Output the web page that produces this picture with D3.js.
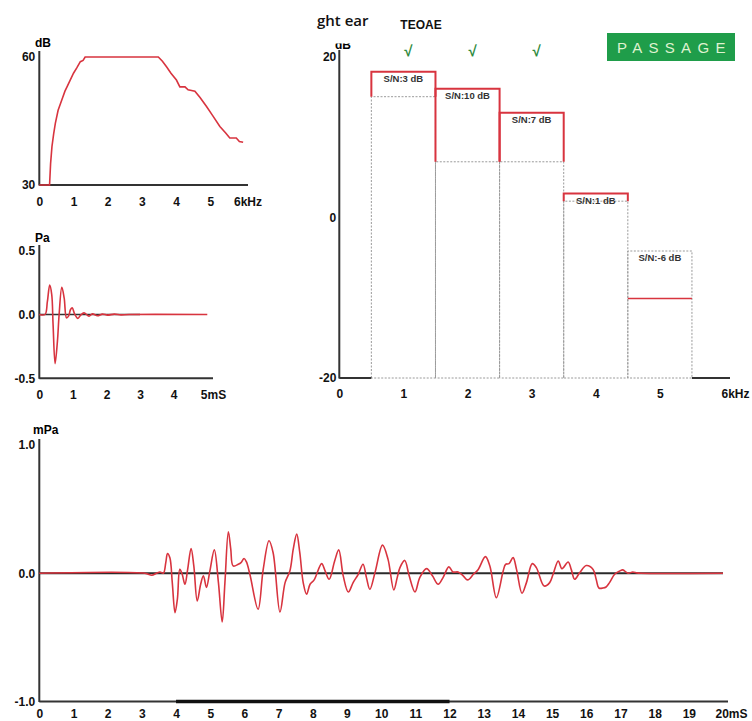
<!DOCTYPE html>
<html><head><meta charset="utf-8">
<script src="https://cdn.jsdelivr.net/npm/d3@7"></script>
<style>body{margin:0;background:#fff} svg{display:block} text{font-family:"Liberation Sans",Arial,sans-serif}</style>
</head><body><svg id="c" width="752" height="721"></svg>
<script>
// ---------- DATA ----------
// Stimulus spectrum (top-left)
const stimFreq = [0,0.30,0.33,0.37,0.42,0.47,0.55,0.66,0.75,0.81,0.90,1.00,1.10,1.20,1.28,1.34,3.48,3.60,3.72,3.85,4.01,4.11,4.26,4.35,4.55,4.70,4.89,5.05,5.28,5.45,5.57,5.76,5.85,5.96];
const stimDb   = [30,30,35,39,42,44.5,47.5,50,52,53,54.5,56.2,57.5,58.9,59.2,60,60,59,57.7,56.2,54.6,53,53,52.3,52,50.5,48.4,46.5,43.7,42.2,41,41,40.2,40];
const stimXTicks = [0,1,2,3,4,5,6];
const stimXLabels = ["0","1","2","3","4","5","6kHz"];
const stimYTicks = [30,60];

// Stimulus waveform (Pa)
const clickTime = [0,0.17,0.24,0.31,0.37,0.41,0.47,0.54,0.59,0.67,0.74,0.81,0.87,0.93,0.98,1.05,1.15,1.23,1.33,1.48,1.58,1.73,1.88,2.03,2.23,2.43,2.67,5.0];
const clickPa   = [0,0,0.10,0.23,0.156,-0.078,-0.385,-0.208,0,0.213,0.13,-0.026,-0.013,0.039,0.052,0.005,-0.03,-0.005,0.013,-0.013,0.005,-0.01,0.003,-0.005,0.003,-0.003,0,0];
const clickXTicks = [0,1,2,3,4,5];
const clickXLabels = ["0","1","2","3","4","5mS"];
const clickYTicks = [-0.5,0,0.5];

// TEOAE band spectrum
const bandCenter = [1,2,3,4,5];
const bandSignal = [18.1,16.0,13.0,2.95,-10.1];
const bandNoise  = [15.0,6.9,6.9,2.0,-4.2];
const bandLabel  = ["S/N:3 dB","S/N:10 dB","S/N:7 dB","S/N:1 dB","S/N:-6 dB"];
const bandPass   = [true,true,true,false,false];
const specXTicks = [0,1,2,3,4,5,6];
const specXLabels = ["0","1","2","3","4","5","6kHz"];
const specYTicks = [-20,0,20];

// Response waveform (mPa)
const respTime = [0,3.09,3.29,3.43,3.53,3.63,3.70,3.75,3.82,3.89,3.97,4.04,4.11,4.18,4.26,4.34,4.44,4.52,4.62,4.72,4.80,4.89,4.99,5.12,5.24,5.35,5.43,5.53,5.60,5.67,5.82,5.90,5.99,6.06,6.16,6.40,6.55,6.72,6.84,7.04,7.19,7.33,7.43,7.53,7.62,7.72,7.82,7.92,8.04,8.26,8.36,8.48,8.64,8.76,8.89,9.04,9.18,9.33,9.47,9.57,9.67,9.82,10.04,10.20,10.37,10.47,10.55,10.69,10.82,10.99,11.13,11.33,11.50,11.67,11.81,11.98,12.10,12.25,12.40,12.53,12.70,12.84,13.05,13.18,13.37,13.57,13.64,13.74,13.86,13.96,14.12,14.25,14.42,14.54,14.77,14.93,15.03,15.18,15.29,15.47,15.56,15.66,15.81,16.00,16.20,16.29,16.37,16.49,16.58,16.68,16.83,16.98,17.07,17.22,17.36,17.48,17.60,20.0];
const respMPa  = [0,0,-0.016,0,0.01,0,0.083,0.154,0.12,-0.073,-0.307,-0.2,0.03,-0.008,-0.086,0.03,0.193,0.057,-0.216,-0.086,-0.02,-0.11,0.018,0.182,-0.073,-0.38,-0.073,0.323,0.19,0.057,0.07,0.083,0.115,0.088,-0.008,-0.281,0.03,0.253,0.16,-0.302,-0.073,0.018,0.19,0.305,0.16,-0.073,-0.164,-0.086,-0.052,0.075,0.018,-0.047,0.096,0.182,-0.02,-0.146,-0.073,-0.008,0.07,-0.034,-0.125,0.005,0.219,0.11,-0.13,-0.034,0.044,0.10,-0.02,-0.146,-0.034,0.036,-0.02,-0.086,-0.034,0.05,0.01,0.01,-0.02,-0.052,-0.008,0.03,0.13,0.057,-0.19,0.018,0.07,0.075,0.122,0.03,-0.156,-0.073,0.075,0.044,-0.1,-0.073,-0.008,0.096,0.036,0.088,0.03,-0.047,0.005,0.06,0.03,-0.047,-0.115,-0.115,-0.107,-0.073,-0.008,0.018,0.026,0,0.01,0.003,0,0];
const respXTicks = d3.range(0,21);
const respXLabels = respXTicks.map(d => d===20 ? "20mS" : String(d));
const respYTicks = [-1,0,1];
const respWindow = [4,12];

// ---------- STYLE ----------
const RED = "#d8343f", AX = "#333", GRAY = "#9a9a9a";
const svg = d3.select("#c");

function styleAxis(g, size){
  g.select(".domain").remove();
  g.selectAll("text").style("font-size", size||"12px").style("font-weight","bold").attr("fill","#111");
}
function lastStart(g, dx){
  g.selectAll(".tick:last-of-type text").attr("text-anchor","start").attr("dx", dx);
}
function hline(x1,x2,y,w,c){ svg.append("line").attr("x1",x1).attr("x2",x2).attr("y1",y).attr("y2",y).attr("stroke",c||AX).attr("stroke-width",w||2); }
function vline(x,y1,y2,w,c){ svg.append("line").attr("x1",x).attr("x2",x).attr("y1",y1).attr("y2",y2).attr("stroke",c||AX).attr("stroke-width",w||2); }

// ---------- PANEL 1: stimulus spectrum ----------
{
  const x = d3.scaleLinear().domain([0,6]).range([39.3,244.5]);
  const y = d3.scaleLinear().domain([30,60]).range([185,57]);
  vline(x(0),51,185.5); hline(x(0),248,y(30));
  svg.append("g").attr("transform",`translate(0,${y(30)})`)
    .call(d3.axisBottom(x).tickValues(stimXTicks).tickSize(0).tickPadding(12).tickFormat((d,i)=>stimXLabels[i]))
    .call(g=>{styleAxis(g); lastStart(g,-11);});
  svg.append("g").attr("transform",`translate(${x(0)},0)`)
    .call(d3.axisLeft(y).tickValues(stimYTicks).tickSize(0).tickPadding(4))
    .call(g=>styleAxis(g));
  svg.append("text").attr("x",35).attr("y",47).text("dB").style("font-size","12px").style("font-weight","bold");
  const pts = stimFreq.map((f,i)=>[f,stimDb[i]]);
  svg.append("path").datum(pts).attr("fill","none").attr("stroke",RED).attr("stroke-width",1.6)
    .attr("d", d3.line().x(d=>x(d[0])).y(d=>y(d[1])));
}

// ---------- PANEL 2: click waveform ----------
{
  const x = d3.scaleLinear().domain([0,5]).range([39.3,207.3]);
  const y = d3.scaleLinear().domain([-0.5,0.5]).range([378.3,250.7]);
  vline(x(0),245,378.8); hline(x(0),213,y(-0.5));
  svg.append("g").attr("transform",`translate(0,${y(-0.5)})`)
    .call(d3.axisBottom(x).tickValues(clickXTicks).tickSize(0).tickPadding(12.5).tickFormat((d,i)=>clickXLabels[i]))
    .call(g=>{styleAxis(g); lastStart(g,-7);});
  svg.append("g").attr("transform",`translate(${x(0)},0)`)
    .call(d3.axisLeft(y).tickValues(clickYTicks).tickSize(0).tickPadding(4).tickFormat(d3.format(".1f")))
    .call(g=>{styleAxis(g); g.selectAll("text").text(d=>d3.format(".1f")(d).replace("−","-"));});
  svg.append("text").attr("x",35).attr("y",242).text("Pa").style("font-size","12px").style("font-weight","bold");
  hline(x(0),x(3),y(0),1.6,"#333");
  const pts = clickTime.map((t,i)=>[t,clickPa[i]]);
  svg.append("path").datum(pts).attr("fill","none").attr("stroke",RED).attr("stroke-width",1.6)
    .attr("d", d3.line().x(d=>x(d[0])).y(d=>y(d[1])).curve(d3.curveCatmullRom.alpha(0.5)));
}

// ---------- PANEL 3: TEOAE band spectrum ----------
{
  const x = d3.scaleLinear().domain([0,6]).range([339.3,724]);
  const y = d3.scaleLinear().domain([-20,20]).range([378,56.5]);
  bandCenter.forEach((c,i)=>{
    const x0 = x(c-0.5), x1 = x(c+0.5), yb = y(-20);
    const s = bandSignal[i], n = bandNoise[i];
    svg.append("path").attr("fill","none").attr("stroke",GRAY).attr("stroke-width",1).attr("stroke-dasharray","2,1.5")
      .attr("d",`M${x0},${yb}V${y(n)}H${x1}V${yb}H${x0}`);
    if (s > n) {
      svg.append("path").attr("fill","none").attr("stroke",RED).attr("stroke-width",2)
        .attr("d",`M${x0},${y(n)}V${y(s)}H${x1}V${y(n)}`);
    } else {
      svg.append("path").attr("fill","none").attr("stroke",RED).attr("stroke-width",1.6)
        .attr("d",`M${x0},${y(s)}H${x1}`);
    }
    svg.append("text").attr("x",x(c)).attr("y",y(Math.max(s,n))+10).attr("text-anchor","middle")
      .text(bandLabel[i]).style("font-size","9.5px").style("font-weight","bold").attr("fill","#333");
    if (bandPass[i]) {
      svg.append("text").attr("x",x(c)+5).attr("y",56).attr("text-anchor","middle").text("\u221A")
        .style("font-size","15px").style("font-weight","bold").attr("fill","#2e8b3e");
    }
  });
  vline(x(0),50,378.5);
  hline(x(0),x(0.5),y(-20)); hline(x(5.5),730,y(-20));
  svg.append("g").attr("transform",`translate(0,${y(-20)})`)
    .call(d3.axisBottom(x).tickValues(specXTicks).tickSize(0).tickPadding(11).tickFormat((d,i)=>specXLabels[i]))
    .call(g=>{styleAxis(g); lastStart(g,-3);});
  svg.append("g").attr("transform",`translate(${x(0)},0)`)
    .call(d3.axisLeft(y).tickValues(specYTicks).tickSize(0).tickPadding(3))
    .call(g=>{styleAxis(g); g.selectAll("text").text(d=>String(d));});
  // clipped "dB" label (cut off at the top in the original)
  svg.append("clipPath").attr("id","dbclip").append("rect").attr("x",330).attr("y",43.5).attr("width",30).attr("height",10);
  svg.append("text").attr("x",335).attr("y",49).text("dB").style("font-size","12px").style("font-weight","bold").attr("clip-path","url(#dbclip)");
  // titles
  svg.append("text").attr("x",317).attr("y",26).text("ght ear").style("font-family","'Open Sans',sans-serif").style("font-size","15px").style("font-weight","600").attr("fill","#111");
  svg.append("text").attr("x",421).attr("y",29).attr("text-anchor","middle").text("TEOAE").style("font-size","12px").style("font-weight","bold").attr("fill","#111");
  // PASSAGE badge
  svg.append("rect").attr("x",607).attr("y",33).attr("width",128).attr("height",28).attr("fill","#1f9d4a");
  svg.append("text").attr("x",617).attr("y",53).text("PASSAGE").style("font-size","15px").style("letter-spacing","6.3px").attr("fill","#dff2cf");
}

// ---------- PANEL 4: response waveform ----------
{
  const x = d3.scaleLinear().domain([0,20]).range([39.3,723]);
  const y = d3.scaleLinear().domain([-1,1]).range([701.5,445]);
  vline(x(0),439,702); hline(x(0),728,y(-1));
  hline(x(respWindow[0]),x(respWindow[1]),y(-1),3.5,"#111");
  svg.append("g").attr("transform",`translate(0,${y(-1)})`)
    .call(d3.axisBottom(x).tickValues(respXTicks).tickSize(0).tickPadding(7.5).tickFormat((d,i)=>respXLabels[i]))
    .call(g=>{styleAxis(g); lastStart(g,-8);});
  svg.append("g").attr("transform",`translate(${x(0)},0)`)
    .call(d3.axisLeft(y).tickValues(respYTicks).tickSize(0).tickPadding(4))
    .call(g=>{styleAxis(g); g.selectAll("text").text(d=>d3.format(".1f")(d).replace("−","-"));});
  svg.append("text").attr("x",33).attr("y",434).text("mPa").style("font-size","12px").style("font-weight","bold");
  hline(x(0),x(20),y(0),1.8,"#2a2a2a");
  const pts = respTime.map((t,i)=>[t,respMPa[i]]);
  svg.append("path").datum(pts).attr("fill","none").attr("stroke",RED).attr("stroke-width",1.6)
    .attr("d", d3.line().x(d=>x(d[0])).y(d=>y(d[1])).curve(d3.curveCatmullRom.alpha(0.5)));
}
</script></body></html>
